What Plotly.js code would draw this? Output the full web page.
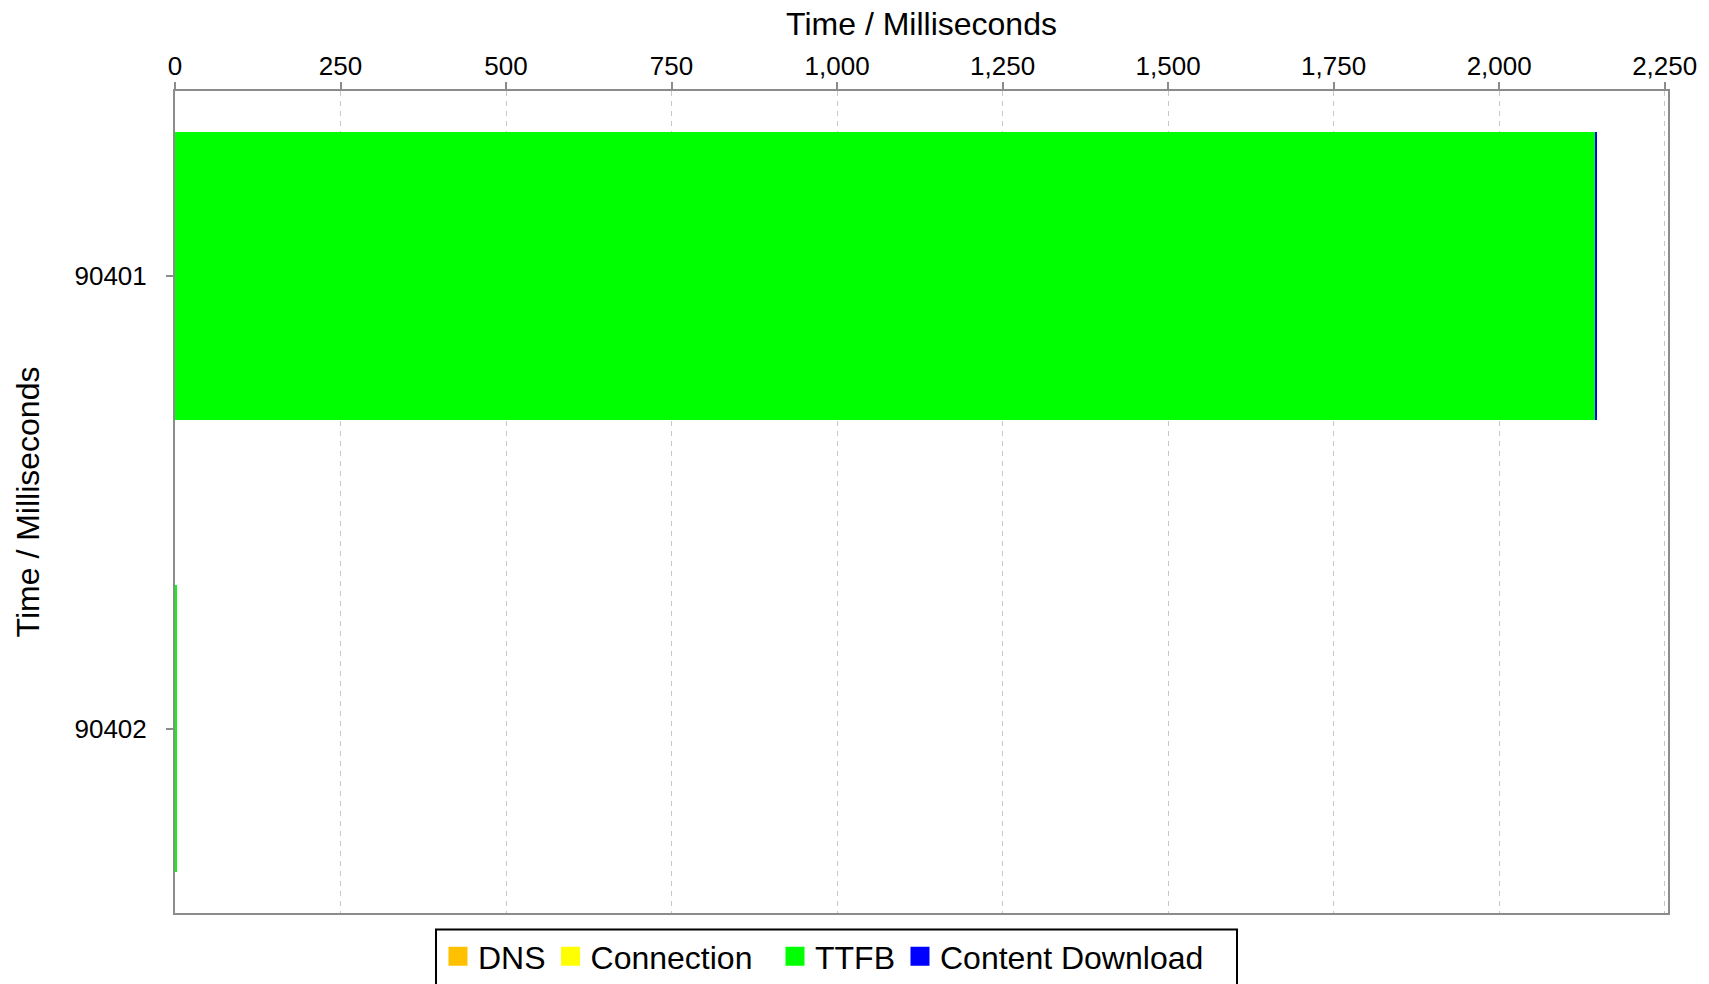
<!DOCTYPE html>
<html>
<head>
<meta charset="utf-8">
<script src="https://cdn.plot.ly/plotly-3.0.1.min.js"></script>
<style>
html,body{margin:0;padding:0;background:#fff;}
#chart{width:1709px;height:984px;}
</style>
</head>
<body>
<div id="chart"></div>
<script>
// ---- data ----
const categories = ['90401', '90402'];
const seriesNames = ['DNS', 'Connection', 'TTFB', 'Content Download'];
const seriesColors = ['#FFC000', '#FFFF00', '#00FF00', '#0000FF'];
const dnsValues = [0, 0];
const connectionValues = [0, 0];
const ttfbValues = [2146, 2];
const contentDownloadValues = [2, 0];
const xTickStep = 250;

const seriesValues = [dnsValues, connectionValues, ttfbValues, contentDownloadValues];
const legendOf = ['legend', 'legend', 'legend2', 'legend2'];
const FONT = '"Liberation Sans", Arial, sans-serif';

const traces = [];
seriesNames.forEach((name, i) => {
  traces.push({
    type: 'bar',
    orientation: 'h',
    name: name,
    legendgroup: name,
    showlegend: false,
    x: seriesValues[i],
    y: categories,
    marker: {color: seriesColors[i], line: {width: 0}},
    hovertemplate: '%{y}: %{x} ms<extra>' + name + '</extra>'
  });
});
// legend proxies (larger square swatches like the reference legend)
seriesNames.forEach((name, i) => {
  traces.push({
    type: 'scatter',
    mode: 'markers',
    name: name,
    legendgroup: name,
    legend: legendOf[i],
    x: [null],
    y: [null],
    marker: {symbol: 'square', size: 16, color: seriesColors[i], line: {color: seriesColors[i], width: 3}},
    hoverinfo: 'skip'
  });
});

const legendBase = {
  orientation: 'h',
  xanchor: 'left',
  y: -0.0194,
  yanchor: 'top',
  borderwidth: 0,
  bgcolor: 'rgba(0,0,0,0)',
  font: {family: FONT, size: 32, color: '#000000'},
  traceorder: 'normal'
};

const layout = {
  width: 1709,
  height: 984,
  margin: {l: 175, r: 41, t: 90.5, b: 71, pad: 0, autoexpand: false},
  paper_bgcolor: '#ffffff',
  plot_bgcolor: '#ffffff',
  font: {family: FONT, color: '#000000', size: 26},
  barmode: 'stack',
  bargap: 0.365,
  showlegend: true,
  legend: Object.assign({}, legendBase, {x: 0.17615}),
  legend2: Object.assign({}, legendBase, {x: 0.40188}),
  shapes: [{
    type: 'rect', xref: 'paper', yref: 'paper',
    x0: 0.17482, x1: 0.71132, y0: -0.0202, y1: -0.15,
    line: {color: '#000000', width: 2}, fillcolor: 'rgba(0,0,0,0)', layer: 'above'
  }],
  xaxis: {
    side: 'top',
    range: [0, 2255],
    tick0: 0,
    dtick: xTickStep,
    tickformat: ',d',
    showgrid: true,
    gridcolor: '#c8c8c8',
    griddash: '5px,5px',
    gridwidth: 1,
    zeroline: false,
    showline: true,
    linecolor: '#8c8c8c',
    linewidth: 2,
    mirror: true,
    ticks: 'outside',
    ticklen: 7,
    tickwidth: 2,
    tickcolor: '#8c8c8c',
    ticklabelstandoff: -3,
    tickfont: {family: FONT, size: 26, color: '#000000'},
    title: {text: 'Time / Milliseconds', font: {family: FONT, size: 32, color: '#000000'}, standoff: 5},
    automargin: false
  },
  yaxis: {
    type: 'category',
    categoryorder: 'array',
    categoryarray: categories,
    range: [1.407, -0.409],
    showgrid: false,
    zeroline: false,
    showline: true,
    linecolor: '#8c8c8c',
    linewidth: 2,
    mirror: true,
    ticks: 'outside',
    ticklen: 7,
    tickwidth: 2,
    tickcolor: '#8c8c8c',
    ticklabelstandoff: 14,
    tickfont: {family: FONT, size: 26, color: '#000000'},
    title: {text: 'Time / Milliseconds', font: {family: FONT, size: 32, color: '#000000'}, standoff: 25},
    automargin: false
  }
};

Plotly.newPlot('chart', traces, layout, {displayModeBar: false, responsive: false});
</script>
</body>
</html>
